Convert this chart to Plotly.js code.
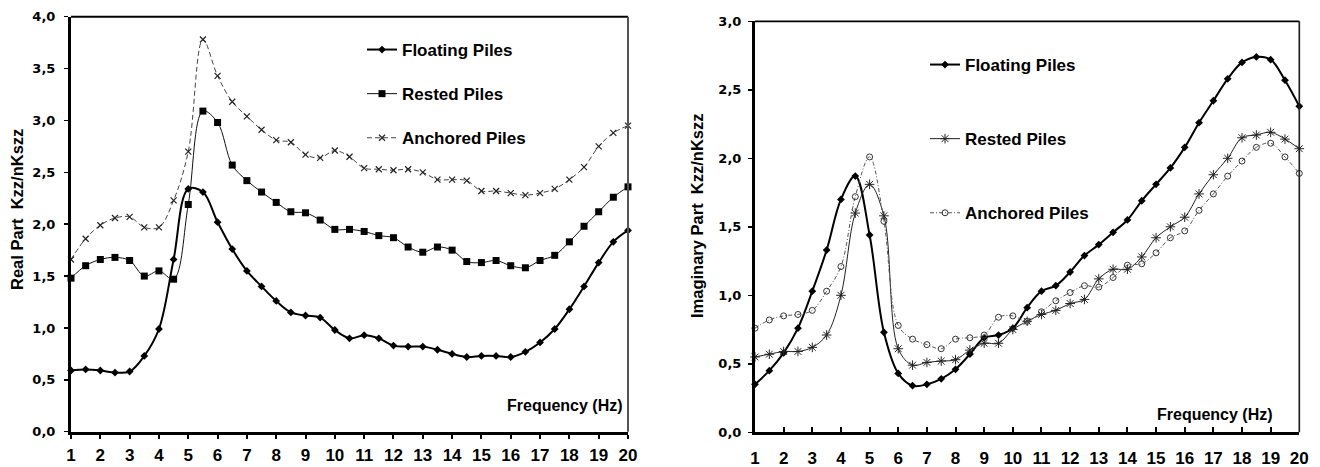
<!DOCTYPE html>
<html>
<head>
<meta charset="utf-8">
<script src="https://cdn.plot.ly/plotly-3.0.1.min.js"></script>
<style>
  html, body { margin: 0; padding: 0; background: #ffffff; }
  #chart { width: 1320px; height: 467px; }
</style>
</head>
<body>
<div id="chart"></div>
<script>
// Frequency steps (Hz) shared by both panels
const frequency = [1, 1.5, 2, 2.5, 3, 3.5, 4, 4.5, 5, 5.5, 6, 6.5, 7, 7.5, 8, 8.5, 9, 9.5, 10, 10.5,
                   11, 11.5, 12, 12.5, 13, 13.5, 14, 14.5, 15, 15.5, 16, 16.5, 17, 17.5, 18, 18.5, 19, 19.5, 20];

// Real part of the vertical impedance, Kzz/nKszz
const realFloating = [0.59, 0.60, 0.59, 0.57, 0.58, 0.73, 0.99, 1.66, 2.34, 2.31,
                      2.02, 1.76, 1.55, 1.40, 1.26, 1.15, 1.12, 1.10, 0.98, 0.90,
                      0.93, 0.90, 0.83, 0.82, 0.82, 0.79, 0.75, 0.72, 0.73, 0.73,
                      0.72, 0.77, 0.86, 0.99, 1.18, 1.40, 1.63, 1.83, 1.94];
const realRested   = [1.48, 1.60, 1.66, 1.68, 1.65, 1.50, 1.55, 1.47, 2.19, 3.09,
                      2.98, 2.57, 2.42, 2.31, 2.21, 2.12, 2.11, 2.04, 1.95, 1.95,
                      1.93, 1.89, 1.87, 1.78, 1.73, 1.78, 1.75, 1.64, 1.63, 1.65,
                      1.60, 1.58, 1.65, 1.70, 1.83, 1.98, 2.12, 2.26, 2.36];
const realAnchored = [1.66, 1.86, 1.99, 2.06, 2.07, 1.97, 1.97, 2.23, 2.70, 3.78,
                      3.43, 3.18, 3.04, 2.91, 2.81, 2.79, 2.67, 2.64, 2.71, 2.65,
                      2.54, 2.53, 2.52, 2.53, 2.50, 2.43, 2.43, 2.42, 2.32, 2.32,
                      2.30, 2.28, 2.30, 2.34, 2.43, 2.55, 2.75, 2.88, 2.95];

// Imaginary part of the vertical impedance, Kzz/nKszz
const imagFloating = [0.35, 0.45, 0.58, 0.76, 1.03, 1.33, 1.70, 1.87, 1.44, 0.73,
                      0.43, 0.34, 0.35, 0.39, 0.46, 0.57, 0.69, 0.71, 0.76, 0.91,
                      1.03, 1.07, 1.17, 1.29, 1.37, 1.46, 1.55, 1.69, 1.81, 1.93,
                      2.08, 2.26, 2.42, 2.58, 2.70, 2.74, 2.72, 2.57, 2.38];
const imagRested   = [0.55, 0.57, 0.59, 0.59, 0.62, 0.71, 1.00, 1.60, 1.81, 1.58,
                      0.61, 0.49, 0.51, 0.52, 0.53, 0.60, 0.65, 0.65, 0.75, 0.81,
                      0.86, 0.89, 0.94, 0.97, 1.12, 1.19, 1.19, 1.28, 1.42, 1.50,
                      1.57, 1.74, 1.88, 2.00, 2.15, 2.17, 2.19, 2.14, 2.07];
const imagAnchored = [0.76, 0.82, 0.85, 0.86, 0.89, 1.03, 1.21, 1.72, 2.01, 1.54,
                      0.78, 0.68, 0.64, 0.61, 0.68, 0.69, 0.71, 0.84, 0.85, 0.81,
                      0.88, 0.96, 1.02, 1.07, 1.06, 1.13, 1.22, 1.23, 1.31, 1.42,
                      1.47, 1.62, 1.74, 1.87, 1.98, 2.08, 2.11, 2.01, 1.89];

const seriesNames = ['Floating Piles', 'Rested Piles', 'Anchored Piles'];
const freqTitle = 'Frequency (Hz)';
const realTitle = 'Real Part\u00a0\u00a0Kzz/nKszz';
const imagTitle = 'Imaginary Part\u00a0\u00a0Kzz/nKszz';

const W = 1320, H = 467;
const px = v => v / W;
const py = v => 1 - v / H;

const boldFont = (size) => ({ family: 'Liberation Sans, Arial, sans-serif', size: size, weight: 'bold', color: '#000' });

function series(x, y, name, ax, legendId, group, line, marker) {
  return {
    x: x, y: y, name: name, type: 'scatter', mode: 'lines+markers',
    xaxis: ax[0], yaxis: ax[1], legend: legendId, legendgroup: group,
    line: Object.assign({ shape: 'spline', smoothing: 1 }, line),
    marker: marker, cliponaxis: false, hoverinfo: 'x+y+name'
  };
}

const traces = [
  // Real part panel
  series(frequency, realFloating, seriesNames[0], ['x', 'y'], 'legend', 'r1',
         { color: '#000', width: 2 }, { symbol: 'diamond', size: 6, color: '#000' }),
  series(frequency, realRested, seriesNames[1], ['x', 'y'], 'legend', 'r2',
         { color: '#111', width: 1 }, { symbol: 'square', size: 7, color: '#000' }),
  series(frequency, realAnchored, seriesNames[2], ['x', 'y'], 'legend', 'r3',
         { color: '#444', width: 1, dash: '5px,3px' },
         { symbol: 'x-thin-open', size: 6, color: '#222', line: { width: 1.2, color: '#222' } }),
  // Imaginary part panel
  series(frequency, imagFloating, seriesNames[0], ['x2', 'y2'], 'legend2', 'i1',
         { color: '#000', width: 2 }, { symbol: 'diamond', size: 6, color: '#000' }),
  series(frequency, imagRested, seriesNames[1], ['x2', 'y2'], 'legend2', 'i2',
         { color: '#222', width: 1 },
         { symbol: 'asterisk-open', size: 8, color: '#222', line: { width: 1, color: '#222' } }),
  series(frequency, imagAnchored, seriesNames[2], ['x2', 'y2'], 'legend2', 'i3',
         { color: '#555', width: 1, dash: '4px,2px,1px,2px' },
         { symbol: 'circle-open', size: 6, color: '#333', line: { width: 1, color: '#333' } })
];

const xCommon = {
  range: [1, 20], tick0: 1, dtick: 1, showgrid: false, zeroline: false,
  showline: true, linewidth: 3, linecolor: '#000',
  tickcolor: '#000', tickwidth: 2, ticklen: 4,
  tickfont: boldFont(17), automargin: false, fixedrange: true
};
const yCommon = {
  tick0: 0, dtick: 0.5, tickformat: '.1f', showgrid: false, zeroline: false,
  showline: true, linewidth: 3, linecolor: '#000',
  ticks: 'outside', tickcolor: '#000', tickwidth: 1.5, ticklen: 4,
  tickfont: { family: 'DejaVu Sans, sans-serif', size: 13, weight: 'bold', color: '#000' },
  automargin: false, fixedrange: true
};

const leftX = [px(71), px(628)];
const leftY = [py(431.7), py(16.7)];
const rightX = [px(755), px(1299.3)];
const rightY = [py(432.3), py(21.3)];

const layout = {
  width: W, height: H,
  margin: { l: 0, r: 0, t: 0, b: 0, pad: 0 },
  paper_bgcolor: '#fff', plot_bgcolor: '#fff',
  separators: ', ',
  showlegend: true,
  xaxis: Object.assign({}, xCommon, { domain: leftX, anchor: 'y', ticks: 'outside', ticklabelstandoff: 2 }),
  xaxis3: Object.assign({}, xCommon, { overlaying: 'x', anchor: 'y', ticks: 'inside', showticklabels: false, showline: false }),
  yaxis: Object.assign({}, yCommon, { domain: leftY, anchor: 'x', range: [0, 4], ticklabelstandoff: 6 }),
  xaxis2: Object.assign({}, xCommon, { domain: rightX, anchor: 'y2', ticks: 'inside', ticklen: 5, ticklabelstandoff: 8 }),
  yaxis2: Object.assign({}, yCommon, { domain: rightY, anchor: 'x2', range: [0, 3], ticklabelstandoff: 4 }),
  legend: {
    x: px(362), xanchor: 'left', y: py(32), yanchor: 'top',
    bgcolor: 'rgba(0,0,0,0)', borderwidth: 0, font: boldFont(17),
    tracegroupgap: 19, itemwidth: 30, traceorder: 'grouped'
  },
  legend2: {
    x: px(925), xanchor: 'left', y: py(47), yanchor: 'top',
    bgcolor: 'rgba(0,0,0,0)', borderwidth: 0, font: boldFont(17),
    tracegroupgap: 49, itemwidth: 30, traceorder: 'grouped'
  },
  shapes: [
    { type: 'line', xref: 'x domain', yref: 'y domain', x0: 0, x1: 1, y0: 1, y1: 1, line: { color: '#000', width: 2 } },
    { type: 'line', xref: 'x domain', yref: 'y domain', x0: 1, x1: 1, y0: 0, y1: 1, line: { color: '#555', width: 2 } },
    { type: 'line', xref: 'x2 domain', yref: 'y2 domain', x0: 0, x1: 1, y0: 1, y1: 1, line: { color: '#000', width: 1.7 } },
    { type: 'line', xref: 'x2 domain', yref: 'y2 domain', x0: 1, x1: 1, y0: 0, y1: 1, line: { color: '#222', width: 1.7 } }
  ],
  annotations: [
    { xref: 'paper', yref: 'paper', x: px(17), y: py(210), text: realTitle, textangle: -90,
      showarrow: false, xanchor: 'center', yanchor: 'middle', font: boldFont(16.5) },
    { xref: 'paper', yref: 'paper', x: px(697), y: py(216), text: imagTitle, textangle: -90,
      showarrow: false, xanchor: 'center', yanchor: 'middle', font: boldFont(16.5) },
    { xref: 'paper', yref: 'paper', x: px(625), y: py(405), text: freqTitle,
      showarrow: false, xanchor: 'right', yanchor: 'middle', font: boldFont(16) },
    { xref: 'paper', yref: 'paper', x: px(1275), y: py(414), text: freqTitle,
      showarrow: false, xanchor: 'right', yanchor: 'middle', font: boldFont(16) }
  ]
};

Plotly.newPlot('chart', traces, layout, { displayModeBar: false, staticPlot: true });
</script>
</body>
</html>
